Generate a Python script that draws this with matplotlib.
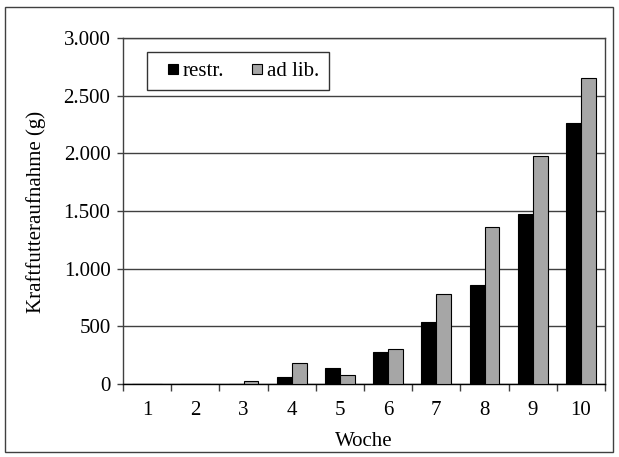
import numpy as np
import matplotlib
matplotlib.use("Agg")
import matplotlib.pyplot as plt
from matplotlib.lines import Line2D
from matplotlib.patches import Rectangle
from matplotlib.ticker import FuncFormatter

plt.rcParams["font.family"] = ["Liberation Serif", "DejaVu Serif"]

weeks = ["1", "2", "3", "4", "5", "6", "7", "8", "9", "10"]
restr = [0, 0, 0, 60, 140, 280, 540, 860, 1470, 2265]
adlib = [0, 0, 25, 180, 80, 300, 780, 1360, 1980, 2650]

W, H = 619, 457
fig = plt.figure(figsize=(W / 100, H / 100), dpi=100)
ax = fig.add_axes([123 / W, 1 - 384 / H, (605 - 123) / W, (384 - 38) / H])

fs = 15
x = np.arange(len(weeks))
w = 0.31
ax.bar(x - w / 2, restr, w, color="black", edgecolor="black", linewidth=0.8,
       zorder=3)
ax.bar(x + w / 2, adlib, w, color="#a6a6a6", edgecolor="black", linewidth=0.8,
       zorder=3)

ax.set_xlim(-0.5, len(weeks) - 0.5)
ax.set_ylim(0, 3000)
ax.set_yticks(np.arange(0, 3001, 500))
ax.yaxis.set_major_formatter(FuncFormatter(lambda v, p: f"{int(v):,}".replace(",", ".")))
ax.set_xticks(x)
ax.set_xticklabels(weeks)
ax.set_xticks(np.arange(-0.5, len(weeks), 1), minor=True)
ax.tick_params(axis="x", which="major", length=0, pad=12, labelsize=fs)
ax.tick_params(axis="x", which="minor", length=5, width=1, color="#404040")
ax.tick_params(axis="y", length=4, width=1, color="#404040", labelsize=fs, pad=5)
ax.grid(axis="y", color="#404040", linewidth=1, zorder=0)
for s in ax.spines.values():
    s.set_color("#404040")
    s.set_linewidth(1)
ax.spines["bottom"].set_color("black")

fig.text(364 / W, 1 - 441 / H, "Woche", fontsize=fs, ha="center", va="center")
fig.text(36 / W, 1 - 212 / H, "Kraftfutteraufnahme (g)", fontsize=fs,
         ha="center", va="center", rotation=90)

# small square markers like the original legend
handles = [
    Line2D([], [], ls="none", marker="s", markersize=7, color="black",
           markeredgecolor="black", markeredgewidth=0.8),
    Line2D([], [], ls="none", marker="s", markersize=7, color="#a6a6a6",
           markeredgecolor="black", markeredgewidth=0.8),
]
leg = ax.legend(handles, ["restr.", "ad lib."], loc="upper left",
                bbox_to_anchor=((147 - 123) / 482, (384 - 52) / 346),
                ncol=2, fontsize=fs, frameon=True, fancybox=False, edgecolor="black",
                handlelength=1.6, handletextpad=-0.34,
                columnspacing=0.8, borderpad=0.45, borderaxespad=0)
leg.get_frame().set_linewidth(1)

fig.patches.append(Rectangle((5 / W, 1 - 452 / H), 608 / W, 445 / H,
                             transform=fig.transFigure, fill=False,
                             edgecolor="#404040", linewidth=1))

fig.savefig("out.png", dpi=100)
